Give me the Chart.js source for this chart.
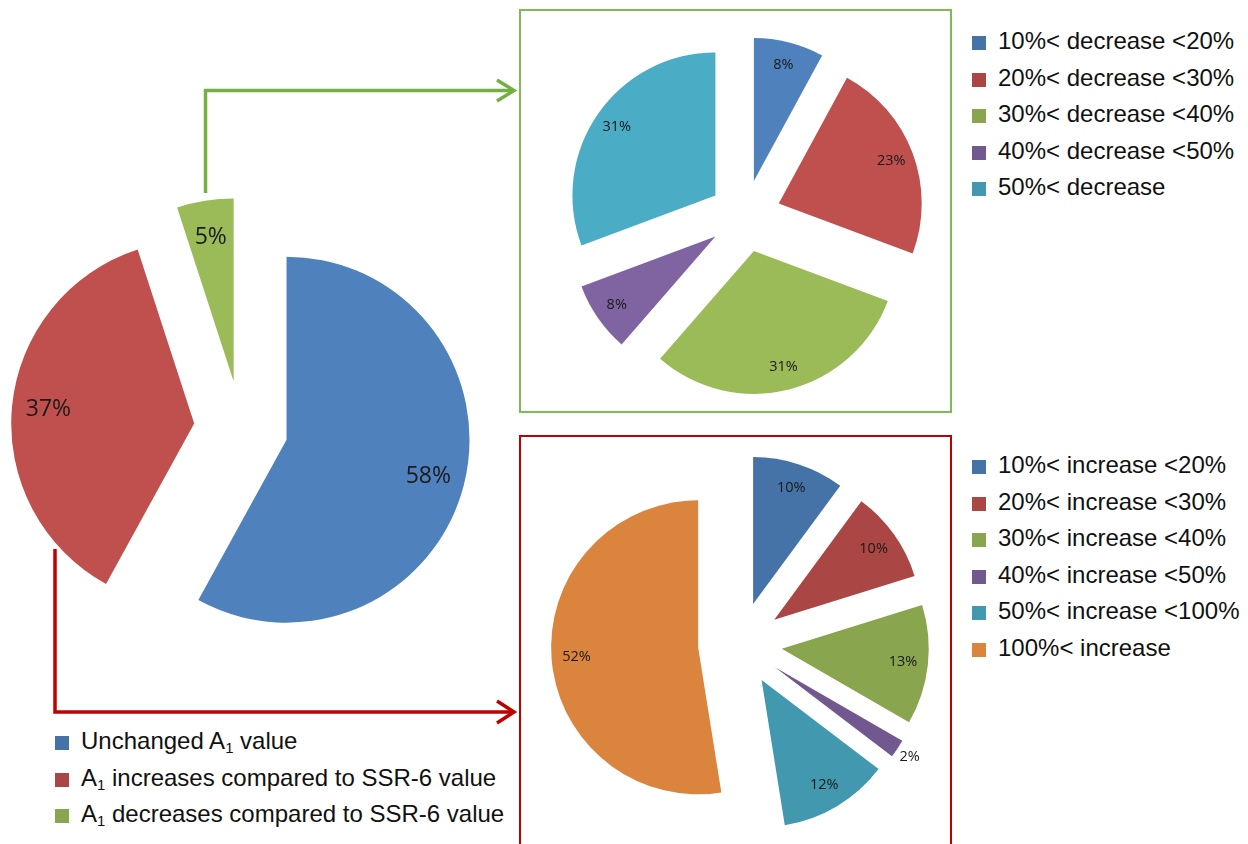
<!DOCTYPE html>
<html lang="en">
<head>
    <meta charset="UTF-8">
    <title>A1 change pies</title>
    <script src="https://cdn.jsdelivr.net/npm/chart.js"></script>
    <style>
* {
    margin: 0;
    padding: 0;
    box-sizing: border-box;
}

body {
    width: 1248px;
    height: 844px;
    background: #ffffff;
    position: relative;
    overflow: hidden;
    font-family: 'Liberation Sans', Arial, sans-serif;
    color: #111;
}

.pie {
    position: absolute;
}

.box {
    position: absolute;
    border: 2px solid;
}

#boxDec { left: 519px; top: 9px; width: 433px; height: 404px; border-color: #7DBB57; }
#boxInc { left: 519px; top: 435px; width: 433px; height: 430px; border-color: #C00000; }

.legend {
    position: absolute;
    font-size: 24px;
}

.legend div {
    height: 36.5px;
    line-height: 36.5px;
    white-space: nowrap;
}

.legend span.sw {
    display: inline-block;
    width: 14px;
    height: 14px;
    margin-right: 12px;
    vertical-align: -1px;
}

sub { font-size: 62%; vertical-align: -4px; line-height: 0; }

#arrows { position: absolute; left: 0; top: 0; }
    </style>
</head>
<body>
    <div class="box" id="boxDec"></div>
    <div class="box" id="boxInc"></div>

    <svg id="arrows" width="1248" height="844">
        <polyline points="205.5,193 205.5,90.5 513,90.5" fill="none" stroke="#72B043" stroke-width="3.5"/>
        <polyline points="497,80 514,90.5 497,101" fill="none" stroke="#72B043" stroke-width="3.5"/>
        <polyline points="55,549 55,712 513,712" fill="none" stroke="#C00000" stroke-width="3.5"/>
        <polyline points="497,701 514,712 497,723" fill="none" stroke="#C00000" stroke-width="3.5"/>
    </svg>

    <canvas class="pie" id="mainPie" width="480" height="480" style="left:1px; top:188px;"></canvas>
    <canvas class="pie" id="decPie" width="380" height="380" style="left:555px; top:26px;"></canvas>
    <canvas class="pie" id="incPie" width="440" height="440" style="left:520px; top:424px;"></canvas>

    <div class="legend" id="legMain" style="left:55px; top:723px;"></div>
    <div class="legend" id="legDec" style="left:972px; top:23px;"></div>
    <div class="legend" id="legInc" style="left:972px; top:447px;"></div>

    <script>
        // main split
        const mainLabels = ['Unchanged A<sub>1</sub> value', 'A<sub>1</sub> increases compared to SSR-6 value', 'A<sub>1</sub> decreases compared to SSR-6 value'];
        const mainValues = [58, 37, 5];

        // decrease detail
        const decLabels = ['10%< decrease <20%', '20%< decrease <30%', '30%< decrease <40%', '40%< decrease <50%', '50%< decrease'];
        const decValues = [8, 23, 31, 8, 31];

        // increase detail
        const incLabels = ['10%< increase <20%', '20%< increase <30%', '30%< increase <40%', '40%< increase <50%', '50%< increase <100%', '100%< increase'];
        const incValues = [10, 10, 13, 2, 12, 52];

        const pieColors = ['#4F81BD', '#C0504D', '#9BBB59', '#8064A2', '#4BACC6'];
        const incColors = ['#4572A7', '#AA4643', '#89A54E', '#71588F', '#4198AF', '#DB843D'];
        const legendColors = ['#4572A7', '#AA4643', '#89A54E', '#71588F', '#4198AF', '#DB843D'];

        // pull every slice away from the centre and write its % inside
        const explodePlugin = {
            id: 'explode',
            beforeDatasetDraw(chart, args, opts) {
                const ctx = chart.ctx;
                const values = chart.data.datasets[0].data;
                args.meta.data.forEach((arc, i) => {
                    const mid = (arc.startAngle + arc.endAngle) / 2;
                    const dx = Math.cos(mid) * opts.dist;
                    const dy = Math.sin(mid) * opts.dist;
                    ctx.save();
                    ctx.translate(dx, dy);
                    arc.draw(ctx);
                    const r = arc.outerRadius * (opts.labelAt[i] || opts.labelAt[0]);
                    ctx.fillStyle = '#1a1a1a';
                    ctx.font = opts.font;
                    ctx.textAlign = 'center';
                    ctx.textBaseline = 'middle';
                    ctx.fillText(values[i] + '%', arc.x + Math.cos(mid) * r, arc.y + Math.sin(mid) * r);
                    ctx.restore();
                });
                return false;
            }
        };

        function makePie(id, values, colors, radius, dist, labelAt, font) {
            return new Chart(document.getElementById(id), {
                type: 'pie',
                data: {
                    labels: values.map(String),
                    datasets: [{ data: values, backgroundColor: colors, borderWidth: 0, radius: radius }]
                },
                options: {
                    responsive: false,
                    animation: false,
                    events: [],
                    layout: { padding: 0 },
                    plugins: {
                        legend: { display: false },
                        tooltip: { enabled: false },
                        explode: { dist: dist, labelAt: labelAt, font: font }
                    }
                },
                plugins: [explodePlugin]
            });
        }

        makePie('mainPie', mainValues, pieColors, 183, 47, [0.8], '23px "Open Sans", sans-serif');
        makePie('decPie', decValues, pieColors, 143, 36, [0.84], '14.5px "Open Sans", sans-serif');
        makePie('incPie', incValues, incColors, 147, 42, [0.83, 0.83, 0.83, 1.1, 0.83, 0.83], '14.5px "Open Sans", sans-serif');

        function fillLegend(id, labels) {
            const box = document.getElementById(id);
            labels.forEach((txt, i) => {
                const row = document.createElement('div');
                row.innerHTML = '<span class="sw" style="background:' + legendColors[i] + '"></span>' + txt;
                box.appendChild(row);
            });
        }
        fillLegend('legMain', mainLabels);
        fillLegend('legDec', decLabels);
        fillLegend('legInc', incLabels);
    </script>
</body>
</html>
